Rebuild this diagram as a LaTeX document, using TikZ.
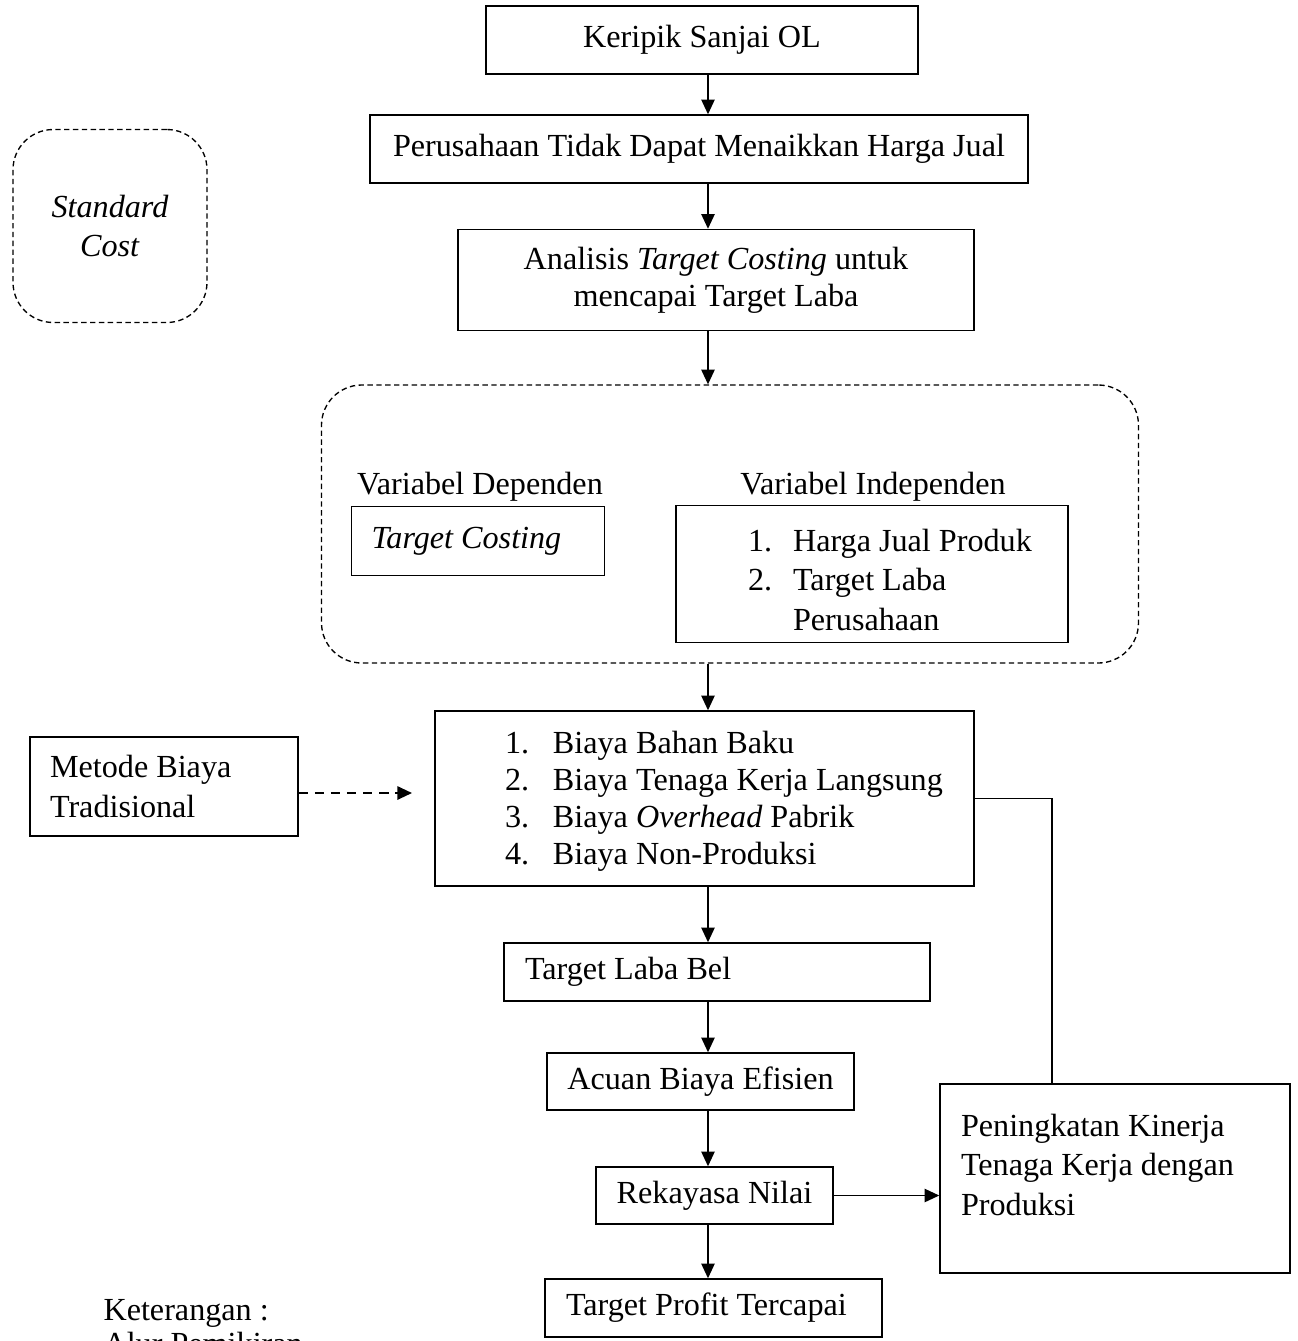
\documentclass[tikz,border=0pt]{standalone}
\usepackage{fontspec}
\setmainfont{Liberation Serif}
\usepackage{tikz}
\usetikzlibrary{positioning, arrows.meta, calc}
\newcommand{\pxl}{0.373pt}

\begin{document}
\begin{tikzpicture}[
  x=0.373pt, y=-0.373pt,
  font=\fontsize{12pt}{13.8pt}\selectfont,
  box/.style={draw, line width=0.55pt, inner sep=0pt, align=center},
  leftbox/.style={box, align=flush left},
  dashbox/.style={draw, line width=0.5pt, dash pattern=on 2pt off 1.3pt,
              rounded corners=15pt, inner sep=0pt, align=center},
  wide/.style={font=\fontsize{12pt}{14.8pt}\selectfont},
  arr/.style={-{Triangle[length=5.5pt, width=5pt]}, line width=0.55pt},
  >=Stealth
]
  \useasboundingbox (0,0) rectangle (1298,1341);
  \coordinate (axis) at (708,0);

  % Main column
  \node[box, minimum width=432*\pxl, minimum height=68*\pxl] (keripik) at (702,40)
    {Keripik Sanjai OL};
  \node[box, minimum width=658*\pxl, minimum height=68*\pxl] (perusahaan) at (699,149)
    {Perusahaan Tidak Dapat Menaikkan Harga Jual};
  \node[box, minimum width=516*\pxl, minimum height=101*\pxl] (analisis) at (716,280)
    {Analisis \textit{Target Costing} untuk\\mencapai Target Laba};

  % Variables
  \node[dashbox, minimum width=817*\pxl, minimum height=278*\pxl] (variabel) at (730,524) {};
  \node (deplabel) at (480,487) {Variabel Dependen};
  \node (indlabel) at (873,487) {Variabel Independen};
  \node[leftbox, inner xsep=20*\pxl, text width=213*\pxl, minimum height=69*\pxl] (tc) at (478,541)
    {\textit{Target Costing}};
  \node[leftbox, wide, inner xsep=72*\pxl, text width=248*\pxl, minimum height=134*\pxl] (ind) at (872,574)
    {\begin{tabular}{@{}p{16.8pt}@{}l@{}}
      \rule{0pt}{17pt}1. & Harga Jual Produk\\
      2. & Target Laba\\
         & Perusahaan
    \end{tabular}};

  % Costs
  \node[leftbox, inner xsep=70*\pxl, text width=399*\pxl, minimum height=175*\pxl] (biaya) at (704.5,798.5)
    {\begin{tabular}{@{}p{17.9pt}@{}l@{}}
      \rule{0pt}{12pt}1. & Biaya Bahan Baku\\
      2. & Biaya Tenaga Kerja Langsung\\
      3. & Biaya \textit{Overhead} Pabrik\\
      4. & Biaya Non-Produksi
    \end{tabular}};
  \node[leftbox, wide, inner xsep=20*\pxl, text width=228*\pxl, minimum height=99*\pxl] (metode) at (164,786.5)
    {Metode Biaya\\Tradisional};
  \node[dashbox, wide, minimum width=194*\pxl, minimum height=193*\pxl] (standard) at (110,226)
    {\textit{Standard}\\\textit{Cost}};

  % Lower column
  \node[leftbox, inner xsep=21*\pxl, text width=384*\pxl, minimum height=58*\pxl] (targetlaba) at (717,972)
    {Target Laba Bel};
  \node[box, minimum width=307*\pxl, minimum height=57*\pxl] (acuan) at (700.5,1081.5)
    {Acuan Biaya Efisien};
  \node[box, minimum width=237*\pxl, minimum height=57*\pxl] (rekayasa) at (714.5,1195.5)
    {Rekayasa Nilai};
  \node[leftbox, inner xsep=21*\pxl, text width=295*\pxl, minimum height=58*\pxl] (profit) at (713.5,1308)
    {Target Profit Tercapai};
  \node[leftbox, wide, inner xsep=21*\pxl, text width=308*\pxl, minimum height=189*\pxl] (kinerja) at (1115,1178.5)
    {\begin{tabular}{@{}l@{}}
      Peningkatan Kinerja\\
      Tenaga Kerja dengan\\
      Produksi\\[8pt]
    \end{tabular}};

  % Legend
  \node[anchor=base west, inner sep=0pt] (ket) at (103,1320) {Keterangan :};
  \node[anchor=base west, inner sep=0pt] (alur) at (103,1354) {Alur Pemikiran};

  % Arrows
  \draw[arr] (keripik.south -| axis) -- (perusahaan.north -| axis);
  \draw[arr] (perusahaan.south -| axis) -- (analisis.north -| axis);
  \draw[arr] (analisis.south -| axis) -- (variabel.north -| axis);
  \draw[arr] (variabel.south -| axis) -- (biaya.north -| axis);
  \draw[arr] (biaya.south -| axis) -- (targetlaba.north -| axis);
  \draw[arr] (targetlaba.south -| axis) -- (acuan.north -| axis);
  \draw[arr] (acuan.south -| axis) -- (rekayasa.north -| axis);
  \draw[arr] (rekayasa.south -| axis) -- (profit.north -| axis);
  \draw[arr] (rekayasa.east) -- (rekayasa.east -| kinerja.west);

  \coordinate (metodeend) at (412,793);
  \draw[arr, line width=0.75pt, dash pattern=on 3.5pt off 2.5pt] (metode.east |- metodeend) -- (metodeend);

  \coordinate (bend) at (1052,0);
  \draw[line width=0.55pt] (biaya.east) -| (bend |- kinerja.north);
\end{tikzpicture}
\end{document}
